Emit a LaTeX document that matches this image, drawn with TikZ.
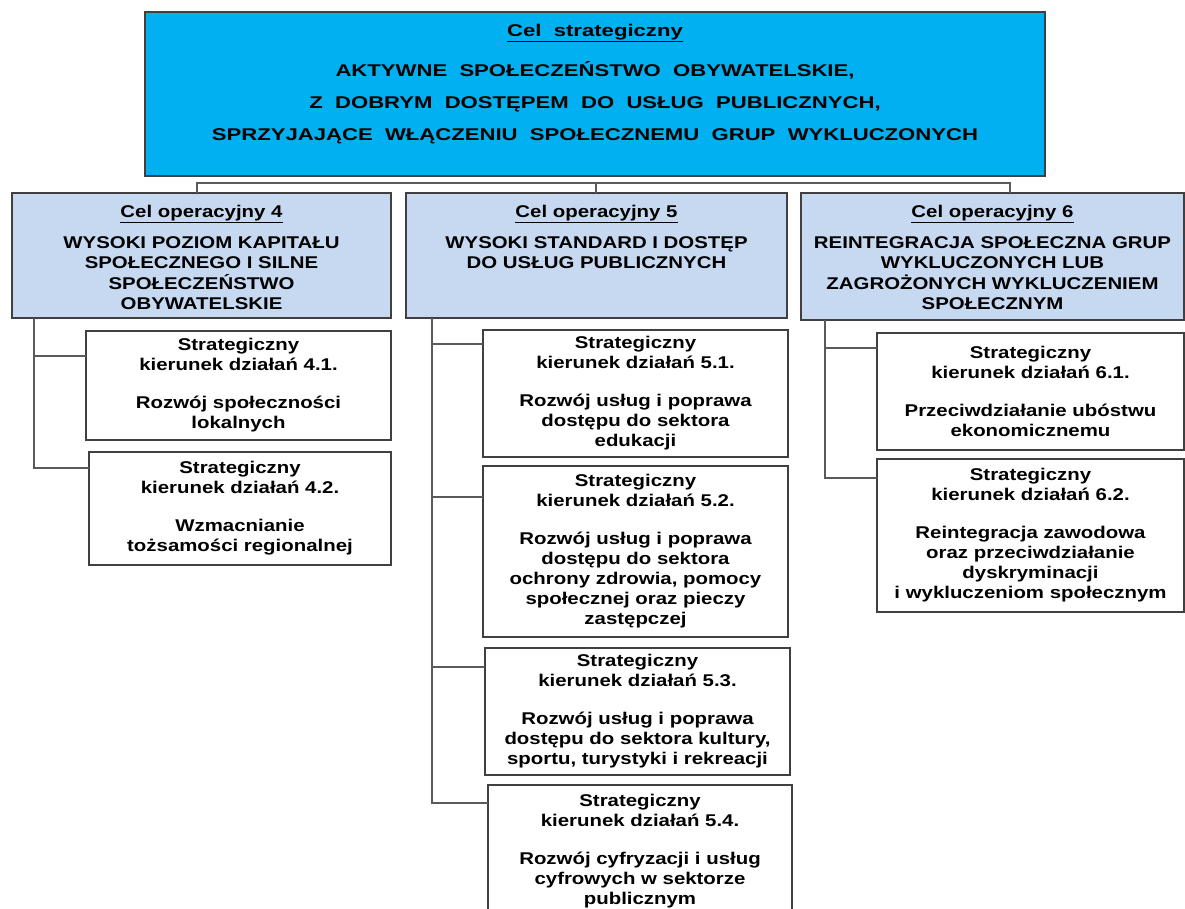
\documentclass[tikz,border=0pt]{standalone}
\usepackage{fontspec}
\setmainfont{Liberation Sans}[FakeStretch=1.2]
\newfontfamily\widefont{Liberation Sans}[FakeStretch=1.3,WordSpace=2]
\definecolor{celblue}{HTML}{00B0F0}
\definecolor{opblue}{HTML}{C6D9F1}
\definecolor{frame}{HTML}{404040}
\definecolor{linkgray}{HTML}{5A5A5A}

\begin{document}
\begin{tikzpicture}[x=1pt,y=-1pt,
    box/.style={draw=frame,line width=1.2pt,inner sep=0pt,outer sep=0pt},
    txt/.style={align=center,inner sep=0pt,anchor=north,
      font=\fontsize{17}{20.5}\selectfont\bfseries},
    kier/.style={box,fill=white,align=center,
      execute at begin node={\rule{0pt}{18.5pt}},
      font=\fontsize{17}{20}\selectfont\bfseries},
    link/.style={draw=linkgray,line width=1.2pt}]
      \useasboundingbox (0,0) rectangle (1185,909);

      \node[box,fill=celblue,minimum width=900,minimum height=164] (cel) at (595,94) {};
      \node[txt,font=\widefont\fontsize{17}{32}\selectfont\bfseries] (celT) at (595,24)
        {\underline{Cel strategiczny}\\[8pt]
         AKTYWNE SPOŁECZEŃSTWO OBYWATELSKIE,\\
         Z DOBRYM DOSTĘPEM DO USŁUG PUBLICZNYCH,\\
         SPRZYJAJĄCE WŁĄCZENIU SPOŁECZNEMU GRUP WYKLUCZONYCH};

      \node[box,fill=opblue,minimum width=379,minimum height=125] (op4) at (201.5,255.5) {};
      \node[box,fill=opblue,minimum width=381,minimum height=125] (op5) at (596.5,255.5) {};
      \node[box,fill=opblue,minimum width=383,minimum height=127] (op6) at (992.5,256.5) {};
      \node[txt] (op4T) at ([yshift=-12pt]op4.north)
        {\underline{Cel operacyjny 4}\\[10pt]
         WYSOKI POZIOM KAPITAŁU\\ SPOŁECZNEGO I SILNE\\ SPOŁECZEŃSTWO\\ OBYWATELSKIE};
      \node[txt] (op5T) at ([yshift=-12pt]op5.north)
        {\underline{Cel operacyjny 5}\\[10pt]
         WYSOKI STANDARD I DOSTĘP\\ DO USŁUG PUBLICZNYCH};
      \node[txt] (op6T) at ([yshift=-12pt]op6.north)
        {\underline{Cel operacyjny 6}\\[10pt]
         REINTEGRACJA SPOŁECZNA GRUP\\ WYKLUCZONYCH LUB\\ ZAGROŻONYCH WYKLUCZENIEM\\ SPOŁECZNYM};

      \node[kier,minimum width=305,minimum height=109] (s41) at (238.5,385.5)
        {Strategiczny\\ kierunek działań 4.1.\\[18pt] Rozwój społeczności\\ lokalnych};
      \node[kier,minimum width=302,minimum height=113] (s42) at (240,508.5)
        {Strategiczny\\ kierunek działań 4.2.\\[18pt] Wzmacnianie\\ tożsamości regionalnej};
      \node[kier,minimum width=305,minimum height=127] (s51) at (635.5,393.5)
        {Strategiczny\\ kierunek działań 5.1.\\[18pt] Rozwój usług i poprawa\\ dostępu do sektora\\ edukacji};
      \node[kier,minimum width=305,minimum height=171] (s52) at (635.5,551.5)
        {Strategiczny\\ kierunek działań 5.2.\\[18pt] Rozwój usług i poprawa\\ dostępu do sektora\\
         ochrony zdrowia, pomocy\\ społecznej oraz pieczy\\ zastępczej};
      \node[kier,minimum width=305,minimum height=127] (s53) at (637.5,711.5)
        {Strategiczny\\ kierunek działań 5.3.\\[18pt] Rozwój usług i poprawa\\
         dostępu do sektora kultury,\\ sportu, turystyki i rekreacji};
      \node[kier,minimum width=304,minimum height=133] (s54) at (640,851.5)
        {Strategiczny\\ kierunek działań 5.4.\\[18pt] Rozwój cyfryzacji i usług\\
         cyfrowych w sektorze\\ publicznym};
      \node[kier,minimum width=307,minimum height=117] (s61) at (1030.5,391.5)
        {Strategiczny\\ kierunek działań 6.1.\\[18pt] Przeciwdziałanie ubóstwu\\ ekonomicznemu};
      \node[kier,minimum width=307,minimum height=153] (s62) at (1030.5,535.5)
        {Strategiczny\\ kierunek działań 6.2.\\[18pt] Reintegracja zawodowa\\
         oraz przeciwdziałanie\\ dyskryminacji\\ i wykluczeniom społecznym};

      \coordinate (b4) at (197,183);
      \coordinate (b5) at (596,183);
      \coordinate (b6) at (1010,183);
      \coordinate (j4) at (34,318);
      \coordinate (j5) at (432,318);
      \coordinate (j6) at (825,320);

      \draw[link] (b4 |- op4.north) -- (b4) -- (b6) -- (b6 |- op6.north);
      \draw[link] (b5) -- (b5 |- op5.north);

      \draw[link] (j4) |- ([yshift=29.5pt]s41.west);
      \draw[link] (j4) |- ([yshift=40.5pt]s42.west);
      \draw[link] (j5) |- ([yshift=49.5pt]s51.west);
      \draw[link] (j5) |- ([yshift=54.5pt]s52.west);
      \draw[link] (j5) |- ([yshift=44.5pt]s53.west);
      \draw[link] (j5) |- ([yshift=48.5pt]s54.west);
      \draw[link] (j6) |- ([yshift=43.5pt]s61.west);
      \draw[link] (j6) |- ([yshift=57.5pt]s62.west);
    \end{tikzpicture}
\end{document}
